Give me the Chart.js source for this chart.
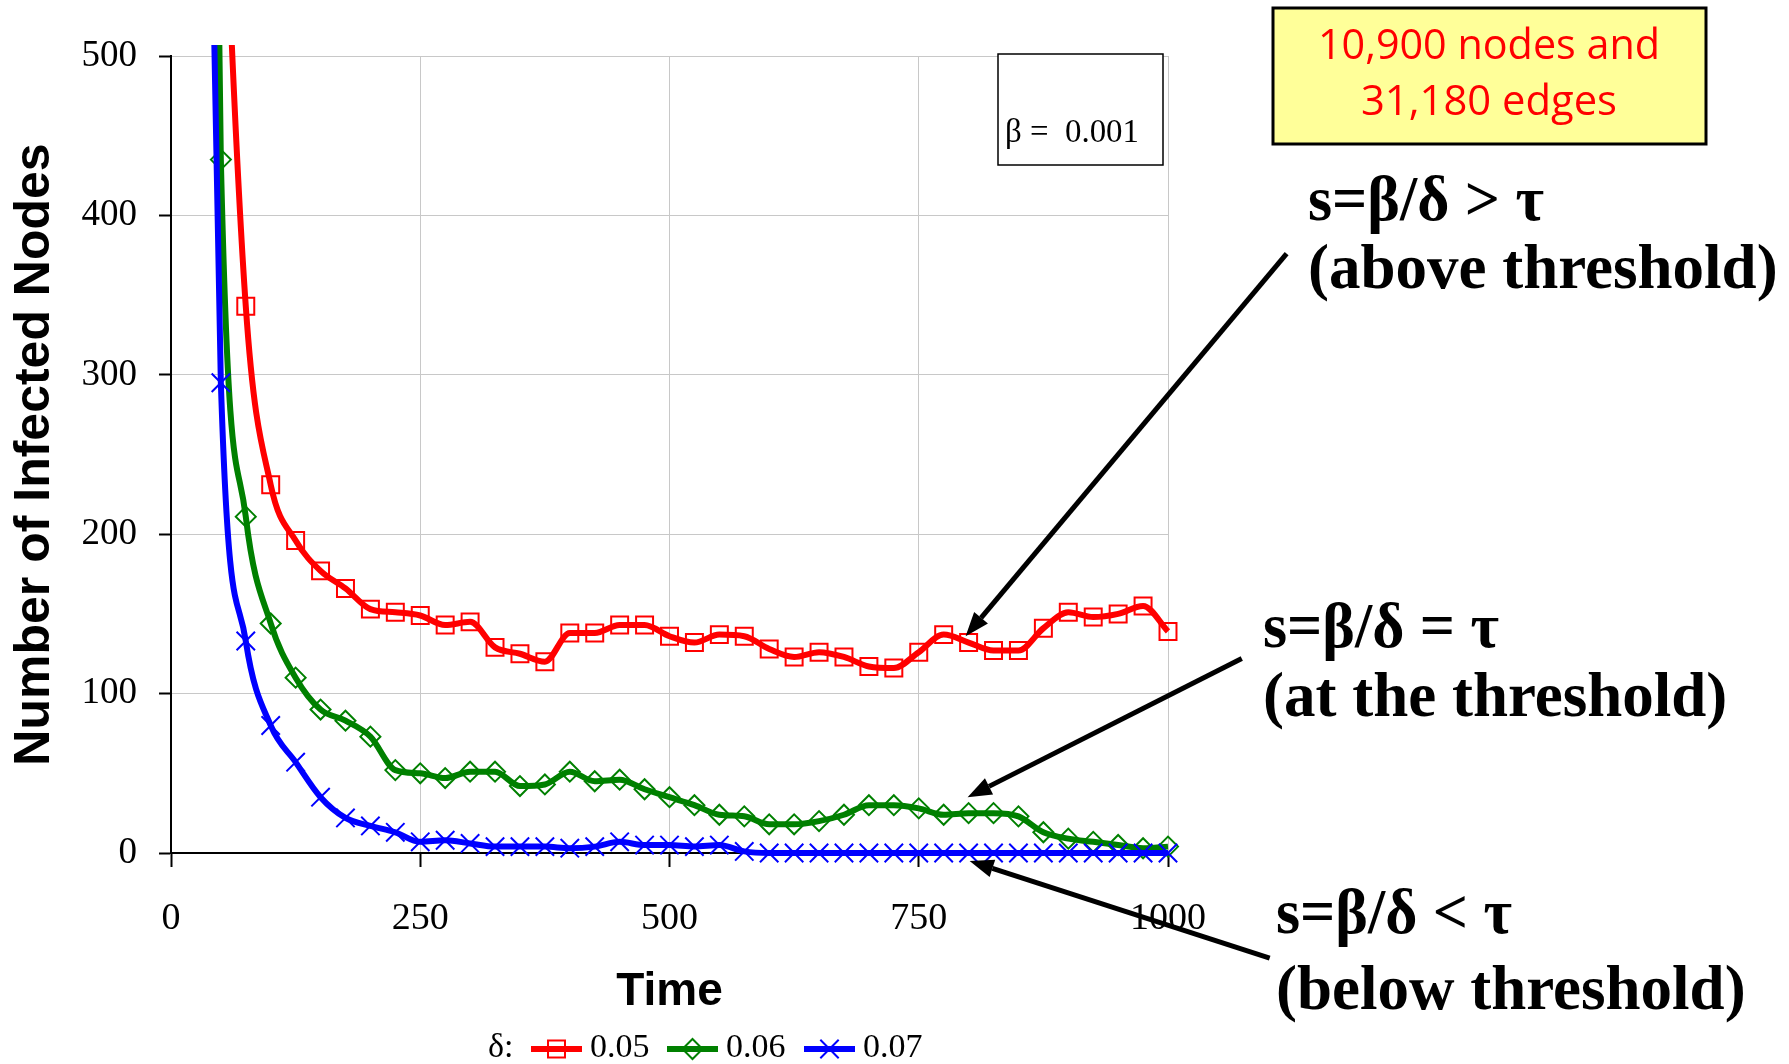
<!DOCTYPE html>
<html>
<head>
<meta charset="utf-8">
<title>Infected Nodes over Time</title>
<script src="https://cdn.jsdelivr.net/npm/chart.js"></script>
<style>
  html, body { margin: 0; padding: 0; background: #fff; }
  #wrap { width: 1789px; height: 1064px; }
</style>
</head>
<body>
<div id="wrap"><canvas id="infectionChart" width="1789" height="1064"></canvas></div>
<script>
// time steps (every 25 units)
const times = [25, 50, 75, 100, 125, 150, 175, 200, 225, 250,
               275, 300, 325, 350, 375, 400, 425, 450, 475, 500,
               525, 550, 575, 600, 625, 650, 675, 700, 725, 750,
               775, 800, 825, 850, 875, 900, 925, 950, 975, 1000];

// number of infected nodes for each recovery rate delta
const infected005 = [1200, 680, 343, 231, 196, 177, 166, 153, 151, 149,
                     143, 145, 129, 125, 120, 138, 138, 143, 143, 136,
                     132, 137, 136, 128, 123, 126, 123, 117, 116, 126,
                     137, 132, 127, 127, 141, 151, 148, 150, 155, 139];
const infected006 = [1700, 435, 211, 144, 110, 90, 83, 73, 52, 50,
                     47, 51, 51, 42, 43, 51, 45, 46, 40, 35,
                     30, 24, 23, 18, 18, 20, 24, 30, 30, 28,
                     24, 25, 25, 23, 13, 9, 7, 5, 3, 4];
const infected007 = [1150, 295, 133, 80, 57, 35, 22, 17, 13, 7,
                     8, 6, 4, 4, 4, 3, 4, 7, 5, 5,
                     4, 5, 1, 0, 0, 0, 0, 0, 0, 0,
                     0, 0, 0, 0, 0, 0, 0, 0, 0, 0];

const deltaLabels = ['0.05', '0.06', '0.07'];
const seriesColors = ['#ff0000', '#008000', '#0000ff'];
const markerStyles = ['rect', 'rectRot', 'crossRot'];
const markerSizes = [12, 10, 13];

const serif = 'Liberation Serif, Times New Roman, serif';
const sans = 'Liberation Sans, Arial, sans-serif';

function toPoints(values) {
    return times.map((t, i) => ({ x: t, y: values[i] }));
}

const seriesValues = [infected005, infected006, infected007];
const datasets = seriesValues.map((vals, i) => ({
    label: deltaLabels[i],
    data: toPoints(vals),
    borderColor: seriesColors[i],
    borderWidth: 6,
    pointStyle: markerStyles[i],
    pointRadius: markerSizes[i],
    pointBorderWidth: 2,
    pointBorderColor: seriesColors[i],
    pointBackgroundColor: 'rgba(0,0,0,0)',
    cubicInterpolationMode: 'monotone',
    tension: 0.4,
    fill: false,
    order: 3 - i,
    clip: { left: 0, top: 11, right: 20, bottom: 20 }
}));

// arrows in axis units: [time, count]
const arrows = [
    { from: [1119, 376], to: [797, 136] },
    { from: [1074, 122], to: [799, 35] },
    { from: [1102, -66], to: [801, -5] }
];

const thresholdNotes = [
    { lines: ['s=β/δ > τ', '(above threshold)'], x: 1308, y: [220, 288], w: [236, 481] },
    { lines: ['s=β/δ = τ', '(at the threshold)'], x: 1263, y: [647, 716], w: [236, 470] },
    { lines: ['s=β/δ < τ', '(below threshold)'], x: 1276, y: [933, 1009], w: [236, 475] }
];

function drawArrow(ctx, x0, y0, x1, y1) {
    const ang = Math.atan2(y1 - y0, x1 - x0);
    const head = 24, half = 9;
    const bx = x1 - head * Math.cos(ang), by = y1 - head * Math.sin(ang);
    ctx.beginPath();
    ctx.moveTo(x0, y0);
    ctx.lineTo(bx, by);
    ctx.stroke();
    ctx.beginPath();
    ctx.moveTo(x1, y1);
    ctx.lineTo(bx + half * Math.sin(ang), by - half * Math.cos(ang));
    ctx.lineTo(bx - half * Math.sin(ang), by + half * Math.cos(ang));
    ctx.closePath();
    ctx.fill();
}

const annotations = {
    id: 'annotations',
    afterDraw(chart) {
        const ctx = chart.ctx;
        const xs = chart.scales.x, ys = chart.scales.y;
        ctx.save();

        // beta box inside the plot
        ctx.fillStyle = '#fff';
        ctx.strokeStyle = '#000';
        ctx.lineWidth = 1.5;
        ctx.fillRect(998, 54, 165, 111);
        ctx.strokeRect(998, 54, 165, 111);
        ctx.fillStyle = '#000';
        ctx.font = '34px ' + serif;
        ctx.textAlign = 'left';
        ctx.textBaseline = 'alphabetic';
        ctx.fillText('β =  0.001', 1005, 142, 134);

        // network size box
        ctx.fillStyle = '#ffff99';
        ctx.fillRect(1273, 8, 433, 136);
        ctx.lineWidth = 3;
        ctx.strokeRect(1273, 8, 433, 136);
        ctx.fillStyle = '#ff0000';
        ctx.font = '42px "Open Sans", sans-serif';
        ctx.textAlign = 'center';
        ctx.fillText('10,900 nodes and', 1489, 59, 342);
        ctx.fillText('31,180 edges', 1489, 115, 256);

        // arrows
        ctx.strokeStyle = '#000';
        ctx.fillStyle = '#000';
        ctx.lineWidth = 5;
        arrows.forEach(a => {
            drawArrow(ctx,
                xs.getPixelForValue(a.from[0]), ys.getPixelForValue(a.from[1]),
                xs.getPixelForValue(a.to[0]), ys.getPixelForValue(a.to[1]));
        });

        // threshold notes
        ctx.font = 'bold 63px ' + serif;
        ctx.textAlign = 'left';
        thresholdNotes.forEach(n => {
            n.lines.forEach((s, i) => ctx.fillText(s, n.x, n.y[i], n.w[i]));
        });

        // legend
        ctx.font = '34px ' + serif;
        ctx.fillStyle = '#000';
        ctx.fillText('δ:', 488, 1057);
        const legendX = [531, 667, 804];
        chart.data.datasets.forEach((ds, i) => {
            const lx = legendX[i], ly = 1049;
            ctx.strokeStyle = ds.borderColor;
            ctx.lineWidth = 6;
            ctx.beginPath();
            ctx.moveTo(lx, ly);
            ctx.lineTo(lx + 51, ly);
            ctx.stroke();
            ctx.fillStyle = 'rgba(0,0,0,0)';
            ctx.lineWidth = 2;
            Chart.helpers.drawPoint(ctx, {
                pointStyle: ds.pointStyle, radius: ds.pointRadius, rotation: 0, borderWidth: 2
            }, lx + 25.5, ly);
            ctx.fillStyle = '#000';
            ctx.fillText(ds.label, lx + 59, 1057);
        });

        ctx.restore();
    }
};

new Chart(document.getElementById('infectionChart'), {
    type: 'line',
    data: { datasets: datasets },
    options: {
        responsive: false,
        animation: false,
        layout: { padding: { left: 0, top: 56, right: 621, bottom: 0 } },
        scales: {
            x: {
                type: 'linear',
                min: 0,
                max: 1000,
                afterFit: s => { s.height = 211; },
                ticks: {
                    stepSize: 250,
                    padding: 29,
                    color: '#000',
                    font: { family: serif, size: 38 },
                    callback: v => String(v)
                },
                grid: {
                    color: '#c8c8c8',
                    lineWidth: 1,
                    tickColor: '#000',
                    tickWidth: 2,
                    tickLength: 14
                },
                border: { color: '#000', width: 2 },
                title: {
                    display: true,
                    text: 'Time',
                    color: '#000',
                    font: { family: sans, size: 46, weight: 'bold' },
                    padding: { top: 0, bottom: 44 }
                }
            },
            y: {
                min: 0,
                max: 500,
                afterFit: s => { s.width = 171; },
                ticks: {
                    stepSize: 100,
                    padding: 22,
                    color: '#000',
                    font: { family: serif, size: 37 },
                    callback: v => String(v)
                },
                grid: {
                    color: '#c8c8c8',
                    lineWidth: 1,
                    tickColor: '#000',
                    tickWidth: 2,
                    tickLength: 12
                },
                border: { color: '#000', width: 2 },
                title: {
                    display: true,
                    text: 'Number of Infected Nodes',
                    color: '#000',
                    font: { family: sans, size: 50, weight: 'bold' },
                    padding: { top: 5, bottom: 0 }
                }
            }
        },
        plugins: {
            legend: { display: false },
            tooltip: { enabled: false }
        }
    },
    plugins: [annotations]
});
</script>
</body>
</html>
